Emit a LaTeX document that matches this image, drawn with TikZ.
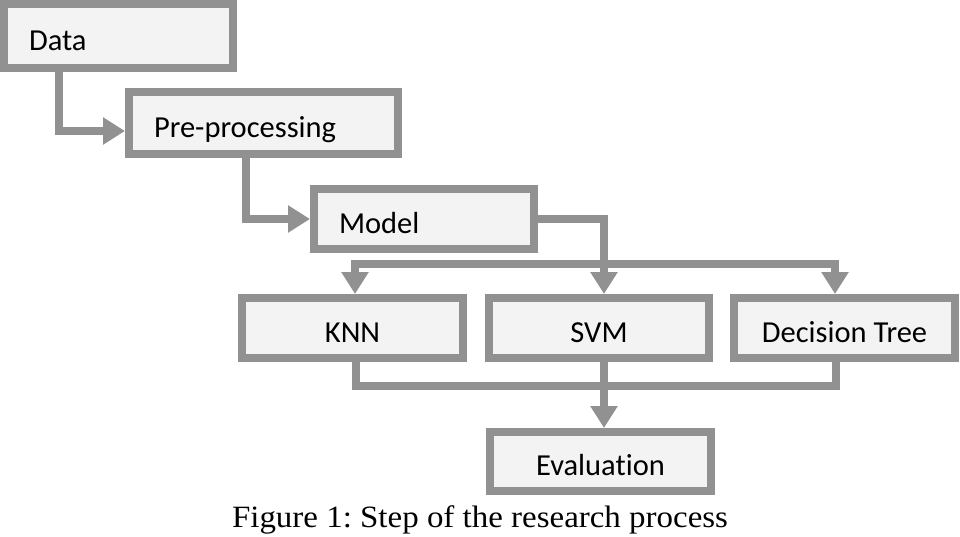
\documentclass[tikz,border=0pt]{standalone}
\usepackage{fontspec}
\setmainfont{Carlito}[Ligatures=NoCommon]
\newfontfamily\capfont{Liberation Serif}
\usetikzlibrary{arrows.meta}
\definecolor{edgegray}{RGB}{145,145,145}
\definecolor{boxfill}{RGB}{243,243,243}
\frenchspacing
\begin{document}
\begin{tikzpicture}[x=1pt,y=-1pt,
  box/.style={draw=edgegray, fill=boxfill, line width=8pt, rectangle,
    inner xsep=25pt, inner ysep=0pt, text height=28pt, text depth=0pt,
    font=\fontsize{30.5}{36}\selectfont},
  conn/.style={draw=edgegray, line width=8pt},
  arr/.style={conn, -{Triangle[length=22pt,width=26pt]}}]
\fill[white] (0,0) rectangle (960,536);
\useasboundingbox (0,0) rectangle (960,536);

\node[box, minimum width=229pt, minimum height=64pt, text width=179pt, align=left] (data) at (118.5,36) {Data};
\node[box, minimum width=269pt, minimum height=62pt, text width=219pt, align=left] (pre) at (263.5,123) {Pre-processing};
\node[box, minimum width=220pt, minimum height=60pt, text width=170pt, align=left] (model) at (424,219) {Model};
\node[box, minimum width=221pt, minimum height=60pt] (knn) at (352.5,328) {KNN};
\node[box, minimum width=220pt, minimum height=60pt] (svm) at (599,328) {SVM};
\node[box, minimum width=221pt, minimum height=60pt] (dt) at (844.5,328) {Decision Tree};
\node[box, minimum width=221pt, minimum height=59pt] (eval) at (600.5,461.5) {Evaluation};

\node[font=\capfont\fontsize{31}{36}\selectfont, anchor=base, xscale=1.063, inner sep=0pt] (cap) at (480,527) {Figure 1: Step of the research process};

\draw[arr] ([xshift=59pt]data.south west) |- ([yshift=-8pt]pre.west);
\draw[arr] ([xshift=121pt]pre.south west) |- (model.west);
\coordinate (bus) at (604,264);
\draw[arr] (model.east) -| ([xshift=5pt]svm.north);
\draw[arr] (bus) -| ([xshift=2.5pt]knn.north);
\draw[arr] (bus) -| ([xshift=-9.5pt]dt.north);
\coordinate (join) at (604,386);
\draw[conn] ([xshift=3.5pt]knn.south) |- (join);
\draw[conn] ([xshift=-8.5pt]dt.south) |- (join);
\draw[arr] ([xshift=5pt]svm.south) -- ([xshift=3.5pt]eval.north);
\end{tikzpicture}
\end{document}
